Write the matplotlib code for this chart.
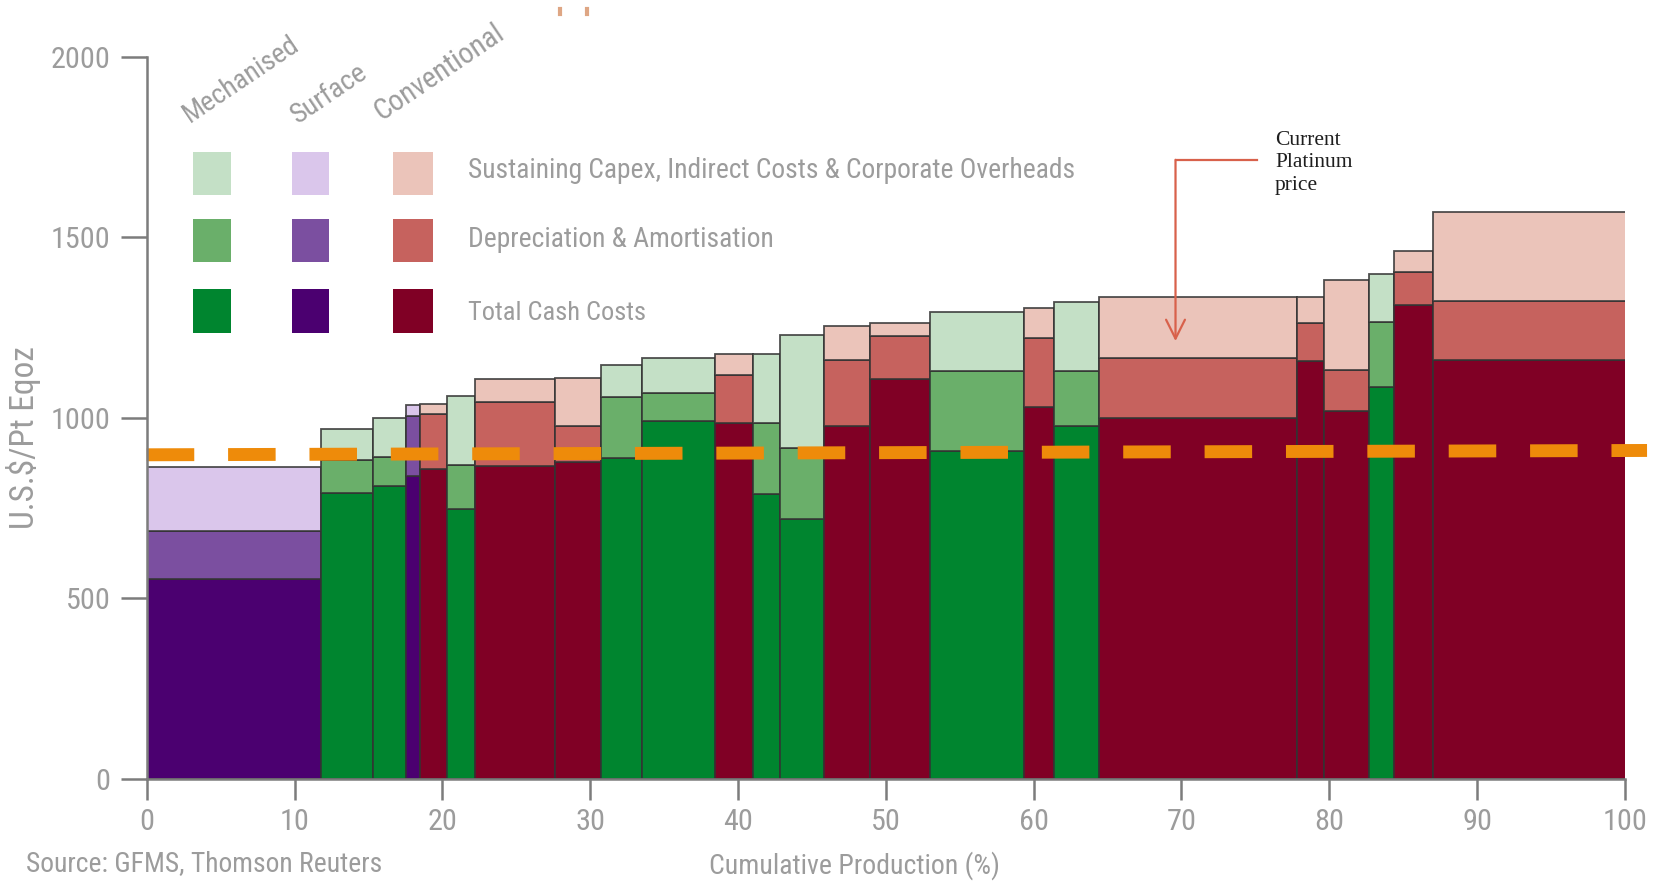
import matplotlib
matplotlib.use("Agg")
import matplotlib.pyplot as plt
from matplotlib import font_manager
from matplotlib.patches import Rectangle
from matplotlib.lines import Line2D

# Mine-by-mine cost curve: production share (% of total), mine type and cost stack (US$/Pt eq oz)
mine_types = ["surface", "mech", "mech", "surface", "conv", "mech", "conv", "conv",
              "mech", "mech", "conv", "mech", "mech", "conv", "conv", "mech",
              "conv", "mech", "conv", "conv", "conv", "mech", "conv", "conv"]
production_share = [11.8, 3.5, 2.25, 0.95, 1.8, 1.9, 5.4, 3.15,
                    2.75, 4.95, 2.55, 1.85, 3.0, 3.1, 4.05, 6.35,
                    2.05, 3.0, 13.4, 1.85, 3.05, 1.65, 2.7, 13.0]
total_cash_costs = [555, 792, 811, 840, 859, 748, 868, 877,
                    889, 992, 987, 790, 720, 978, 1107, 909,
                    1029, 978, 1001, 1157, 1018, 1087, 1314, 1161]
depreciation = [131, 91, 80, 166, 151, 122, 175, 101,
                169, 78, 131, 197, 198, 182, 120, 221,
                193, 152, 165, 107, 114, 178, 89, 163]
sustaining_capex = [179, 86, 108, 29, 30, 191, 66, 133,
                    89, 97, 58, 189, 311, 94, 36, 164,
                    83, 191, 170, 72, 251, 135, 59, 246]

# Current platinum price line (drawn slightly rising across the chart)
price_x = [0, 101.5]
price_y = [898, 910]

type_labels = ["Mechanised", "Surface", "Conventional"]
cost_labels = ["Sustaining Capex, Indirect Costs & Corporate Overheads",
               "Depreciation & Amortisation",
               "Total Cash Costs"]
x_ticks = [0, 10, 20, 30, 40, 50, 60, 70, 80, 90, 100]
y_ticks = [0, 500, 1000, 1500, 2000]

# colours: (cash, depreciation, sustaining) per mine type
palette = {
    "mech": ("#00852F", "#6AAF6A", "#C4E0C6"),
    "surface": ("#4B0070", "#7B4FA0", "#DAC6EB"),
    "conv": ("#800025", "#C6625E", "#EBC4BA"),
}

grey = "#9c9c9c"
axis_grey = "#7c7c7c"


def pick_narrow_font():
    # prefer a narrow sans face, otherwise plain DejaVu Sans
    fonts = font_manager.fontManager.ttflist
    for f in fonts:
        if f.name in ("Liberation Sans Narrow", "Roboto Condensed", "DejaVu Sans Condensed",
                      "Open Sans Condensed", "Noto Sans Condensed"):
            return f.name, "normal"
    for f in fonts:
        if f.name in ("DejaVu Sans", "Roboto", "Noto Sans", "Open Sans") \
                and "condensed" in str(f.stretch):
            return f.name, f.stretch
    return "DejaVu Sans", "normal"


font_name, font_stretch = pick_narrow_font()
plt.rcParams["font.family"] = [font_name, "DejaVu Sans"]
plt.rcParams["font.stretch"] = font_stretch

fig = plt.figure(figsize=(16.56, 8.83), dpi=100)
ax = fig.add_axes([0.0886, 0.1178, 0.8926, 0.8177])
renderer = fig.canvas.get_renderer()


def fit_width(t, target_px):
    # scale a text so its unrotated width hits target_px
    rot = t.get_rotation()
    t.set_rotation(0)
    w = t.get_window_extent(renderer).width
    t.set_fontsize(t.get_fontsize() * target_px / w)
    t.set_rotation(rot)
    return t


left = 0.0
for kind, w, cash, da, sust in zip(mine_types, production_share, total_cash_costs,
                                   depreciation, sustaining_capex):
    c_cash, c_da, c_sust = palette[kind]
    kw = dict(width=w, align="edge", edgecolor=(0.2, 0.2, 0.2, 0.85), linewidth=1.3)
    ax.bar(left, cash, color=c_cash, **kw)
    ax.bar(left, da, bottom=cash, color=c_da, **kw)
    ax.bar(left, sust, bottom=cash + da, color=c_sust, **kw)
    left += w

# price line
ax.plot(price_x, price_y, color="#EE8B0A", lw=9.3, linestyle=(0, (3.68, 2.62)),
        solid_capstyle="butt", dash_capstyle="butt", clip_on=False, zorder=5)

ax.set_xlim(0, 100)
ax.set_ylim(0, 2000)
ax.set_xticks(x_ticks)
ax.set_yticks(y_ticks)
for s in ["top", "right"]:
    ax.spines[s].set_visible(False)
for s in ["left", "bottom"]:
    ax.spines[s].set_color(axis_grey)
    ax.spines[s].set_linewidth(1.8)
    ax.spines[s].set_zorder(6)

# tick label size from the width of "2000"
probe = fig.text(0, 0, "2000", fontsize=20)
fit_width(probe, 60)
tick_size = probe.get_fontsize()
probe.remove()
ax.tick_params(axis="y", direction="out", length=19, width=1.8, color=axis_grey,
               labelcolor=grey, labelsize=tick_size, pad=7)
ax.tick_params(axis="x", direction="out", length=15, width=1.8, color=axis_grey,
               labelcolor=grey, labelsize=tick_size, pad=6)

# hand-made legend: columns for mine type, rows for cost component
col_x = [3.13, 9.80, 16.66]
sw_w = [2.6, 2.53, 2.68]
row_y = [1617, 1431, 1235]
sw_h = 121
for ci, kind in enumerate(["mech", "surface", "conv"]):
    cols = palette[kind]
    for ri, colour in enumerate([cols[2], cols[1], cols[0]]):
        ax.add_patch(Rectangle((col_x[ci], row_y[ri]), sw_w[ci], sw_h,
                               facecolor=colour, edgecolor="none", zorder=4))

head_pos = [(2.9, 1818), (10.2, 1814), (15.9, 1823)]
head_px = [134, 86, 150]
for (hx, hy), lab, wpx in zip(head_pos, type_labels, head_px):
    t = ax.text(hx, hy, lab, rotation=34, rotation_mode="anchor", ha="left",
                va="baseline", fontsize=18, color=grey, clip_on=False)
    fit_width(t, wpx)

for yy, lab, wpx in zip([1686, 1493, 1291], cost_labels, [607, 307, 178]):
    t = ax.text(21.75, yy, lab, ha="left", va="center", fontsize=18, color=grey)
    fit_width(t, wpx)

# annotation for the price line
ax.plot([69.6, 75.1], [1715, 1715], color="#D8614B", lw=1.6, zorder=7)
ax.annotate("", xy=(69.6, 1213), xytext=(69.6, 1715),
            arrowprops=dict(arrowstyle="->", color="#D8614B", lw=1.6,
                            mutation_scale=34, shrinkA=0, shrinkB=0), zorder=7)
fig.text(0.770, 0.852, "Current\nPlatinum\nprice", ha="left", va="top",
         family=["Liberation Serif", "DejaVu Serif"], fontsize=15.5, stretch="normal",
         color="#1e1e1e", linespacing=1.25)

t = fig.text(0.0139, 0.505, "U.S.$/Pt Eqoz", rotation=90, ha="center", va="center",
             fontsize=18, color=grey)
fit_width(t, 183)
t = fig.text(0.516, 0.0193, "Cumulative Production (%)", ha="center", va="center",
             fontsize=18, color=grey)
fit_width(t, 291)
t = fig.text(0.0157, 0.0215, "Source: GFMS, Thomson Reuters", ha="left", va="center",
             fontsize=18, color=grey)
fit_width(t, 356)

# two small orange marks at the top edge
for fx in [0.338, 0.3545]:
    fig.add_artist(Line2D([fx, fx], [0.984, 0.990], transform=fig.transFigure,
                          color="#D08050", lw=3, alpha=0.7))

fig.savefig("out.png", dpi=100)
